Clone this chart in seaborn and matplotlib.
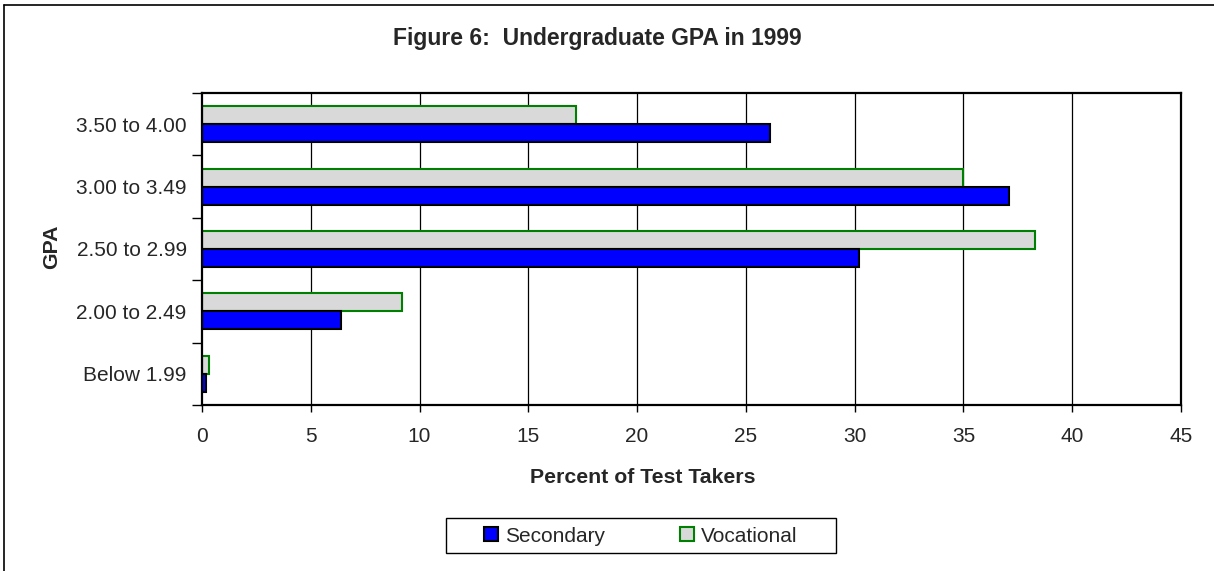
import matplotlib
matplotlib.use("Agg")
import matplotlib.pyplot as plt
import seaborn as sns
import pandas as pd
from matplotlib.patches import Patch, Rectangle
from matplotlib.lines import Line2D

gpa_bands = ["3.50 to 4.00", "3.00 to 3.49", "2.50 to 2.99", "2.00 to 2.49", "Below 1.99"]
secondary = [26.1, 37.1, 30.2, 6.4, 0.2]
vocational = [17.2, 35.0, 38.3, 9.2, 0.3]
x_ticks = [0, 5, 10, 15, 20, 25, 30, 35, 40, 45]

df = pd.DataFrame({
    "GPA": gpa_bands * 2,
    "Percent": vocational + secondary,
    "Group": ["Vocational"] * 5 + ["Secondary"] * 5,
})

sns.set_style("white")
plt.rcParams["font.family"] = ["Liberation Sans", "DejaVu Sans"]

fig = plt.figure(figsize=(12.14, 5.71), dpi=100)
ax = fig.add_axes([202 / 1214, 1 - 405 / 571, 979 / 1214, 312 / 571])

sec_color = "#0000ff"
voc_color = "#d9d9d9"
sns.barplot(data=df, x="Percent", y="GPA", hue="Group", order=gpa_bands,
            hue_order=["Vocational", "Secondary"],
            palette={"Vocational": voc_color, "Secondary": sec_color},
            width=0.58, orient="h", ax=ax, legend=False, saturation=1)

for bar, grp in zip(ax.patches, ["Vocational"] * 5 + ["Secondary"] * 5):
    if grp == "Vocational":
        bar.set_edgecolor("#008000")
    else:
        bar.set_edgecolor("black")
    bar.set_linewidth(1.5)

ax.set_xlim(0, 45)
ax.set_xticks(x_ticks)
ax.set_xticklabels([str(t) for t in x_ticks], fontsize=15)
ax.set_ylim(4.5, -0.5)
ax.set_yticks(range(5))
ax.set_yticklabels(gpa_bands, fontsize=15)
ax.set_yticks([i - 0.5 for i in range(6)], minor=True)
ax.tick_params(axis="y", which="major", length=0, pad=11)
ax.tick_params(axis="y", which="minor", length=7, width=1, color="black", direction="out", left=True)
ax.tick_params(axis="x", which="major", length=5, width=1, color="black", direction="out", bottom=True, pad=11)
ax.set_xlabel("")
ax.set_ylabel("")

ax.grid(False)
for t in x_ticks[1:-1]:
    ax.axvline(t, color="black", lw=0.9, zorder=0)
for s in ax.spines.values():
    s.set_visible(True)
    s.set_color("black")
    s.set_linewidth(1.6)

fig.text(597 / 1214, 1 - 45 / 571, "Figure 6:  Undergraduate GPA in 1999",
         ha="center", va="baseline", fontsize=16.5, fontweight="bold")
fig.text(642.5 / 1214, 1 - 483 / 571, "Percent of Test Takers",
         ha="center", va="baseline", fontsize=15.3, fontweight="bold")
fig.text(52 / 1214, 1 - 247 / 571, "GPA", ha="center", va="center",
         rotation=90, fontsize=15.3, fontweight="bold")

# legend frame
fig.patches.append(Rectangle((446 / 1214, 1 - 553 / 571), 390 / 1214, 35 / 571,
                             transform=fig.transFigure, fill=False,
                             edgecolor="black", lw=1.0))
handles = [Patch(facecolor=sec_color, edgecolor="black", lw=1.5, label="Secondary"),
           Patch(facecolor=voc_color, edgecolor="#008000", lw=1.5, label="Vocational")]
fig.legend(handles=handles, loc="center", bbox_to_anchor=(641 / 1214, 1 - 536 / 571),
           ncol=2, frameon=False, fontsize=15, handlelength=0.65, handleheight=0.65,
           handletextpad=0.35, columnspacing=3.6, borderpad=0.2)

# outer frame (left and top edges visible)
fig.lines.append(Line2D([4 / 1214, 4 / 1214], [0, 1 - 5 / 571], transform=fig.transFigure,
                        color="black", lw=1.2))
fig.lines.append(Line2D([4 / 1214, 1], [1 - 5 / 571, 1 - 5 / 571], transform=fig.transFigure,
                        color="black", lw=1.2))

fig.savefig("out.png", dpi=100, facecolor="white")
